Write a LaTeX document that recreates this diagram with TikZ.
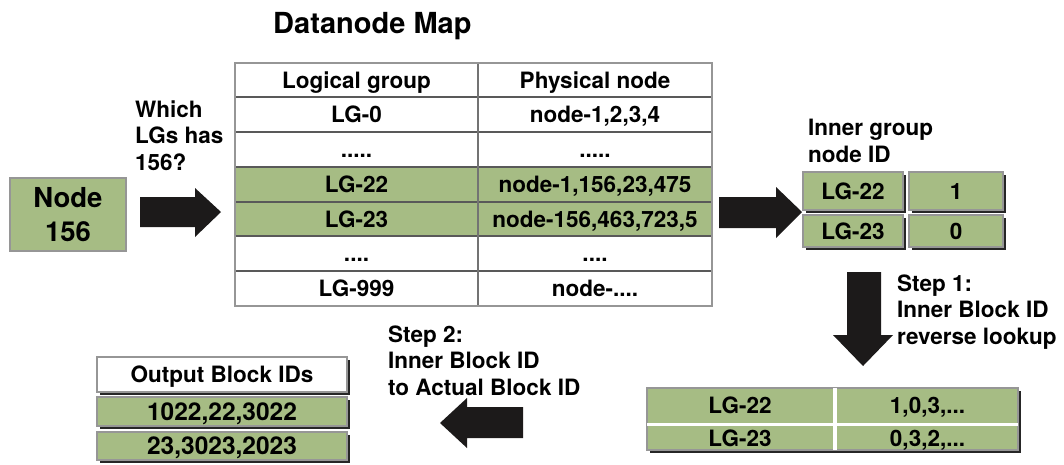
\documentclass[tikz,border=0pt]{standalone}
\usepackage{fontspec}
\setmainfont{TeX Gyre Heros}
\usetikzlibrary{shadows}

\definecolor{lgreen}{RGB}{166,188,132}
\definecolor{edgegray}{RGB}{150,150,150}
\definecolor{arrowfill}{RGB}{28,26,26}

\begin{document}
\begin{tikzpicture}[x=1pt,y=-1pt,
  lbl/.style={font=\bfseries\fontsize{22.5}{26.5}\selectfont, inner sep=0pt, align=left, anchor=base west},
  celltext/.style={font=\bfseries\fontsize{22.5}{26.5}\selectfont, inner sep=0pt,
                   text height=16pt, text depth=0pt},
  shadowed/.style={drop shadow={shadow xshift=2.5pt, shadow yshift=-2.5pt, fill=black!85, opacity=1}},
  gcell/.style={celltext, fill=lgreen, draw=edgegray, line width=1.2pt, shadowed},
  blockarrow/.style={fill=arrowfill, draw=none}
]
\useasboundingbox (0,0) rectangle (1064,464);

% ---- title ----
\node[inner sep=0pt, anchor=base west, font=\bfseries\fontsize{29}{34}\selectfont] (title) at (273,33) {Datanode Map};

% ---- source node ----
\node[draw=edgegray, line width=1.8pt, fill=lgreen, minimum width=116pt, minimum height=73pt,
      inner sep=0pt, align=center, font=\bfseries\fontsize{27.5}{34}\selectfont] (src) at (68,214.5)
      {Node\\156};

% multi-line labels are anchored at the baseline of their last line
\node[lbl] (question) at (135,170) {Which\\LGs has\\156?};

% arrow into the map
\fill[blockarrow] (140,197) -- (195,197) -- (195,188) -- (221,212) -- (195,237) -- (195,227) -- (140,227) -- cycle;

% ---- datanode map table ----
\fill[lgreen] (235,167) rectangle (712,236);
\foreach \yy in {97,132,167,202,236,271}
  \draw[black!65, line width=1.1pt] (235,\yy) -- (712,\yy);
\draw[black!55, line width=1.2pt] (478,63) -- (478,306);
\draw[edgegray, line width=1.5pt] (235,63) rectangle (712,306);

\node[celltext] (h1) at (356.5,80)    {Logical group};
\node[celltext] (h2) at (595,80)      {Physical node};
\node[celltext] (a1) at (356.5,114.5) {LG-0};
\node[celltext] (a2) at (595,114.5)   {node-1,2,3,4};
\node[celltext] (b1) at (356.5,149.5) {.....};
\node[celltext] (b2) at (595,149.5)   {.....};
\node[celltext] (c1) at (356.5,184.5) {LG-22};
\node[celltext] (c2) at (595,184.5)   {node-1,156,23,475};
\node[celltext] (d1) at (356.5,219)   {LG-23};
\node[celltext] (d2) at (595,219)     {node-156,463,723,5};
\node[celltext] (e1) at (356.5,253.5) {....};
\node[celltext] (e2) at (595,253.5)   {....};
\node[celltext] (f1) at (356.5,288.5) {LG-999};
\node[celltext] (f2) at (595,288.5)   {node-....};

% arrow to inner group table
\fill[blockarrow] (719,197) -- (776,197) -- (776,187) -- (802,212) -- (776,238) -- (776,228) -- (719,228) -- cycle;

% ---- inner group node ID ----
\node[lbl] (innerlbl) at (808,162) {Inner group\\node ID};
\node[gcell, minimum width=100pt, minimum height=38pt] (ig1) at (853,191) {LG-22};
\node[gcell, minimum width=94pt,  minimum height=38pt] (ig2) at (956,191) {1};
\node[gcell, minimum width=100pt, minimum height=32pt] (ig3) at (853,231) {LG-23};
\node[gcell, minimum width=94pt,  minimum height=32pt] (ig4) at (956,231) {0};

% step 1 arrow (downwards)
\fill[blockarrow] (847,272) -- (881,272) -- (881,335) -- (893,335) -- (863,366) -- (833,335) -- (847,335) -- cycle;
\node[lbl] (step1) at (897,344) {Step 1:\\Inner Block ID\\reverse lookup};

% ---- inner block id table ----
\node[draw=edgegray, line width=1.2pt, fill=lgreen, minimum width=371pt, minimum height=62pt,
      inner sep=0pt, shadowed] (blk) at (832.5,419) {};
\draw[white, line width=3.5pt] (835,388) -- (835,450);
\draw[white, line width=3.2pt] (647,424.5) -- (1018,424.5);
\node[celltext] (k1) at (740,405.5) {LG-22};
\node[celltext] (k2) at (927.5,405.5) {1,0,3,...};
\node[celltext] (k3) at (740,438) {LG-23};
\node[celltext] (k4) at (927.5,438) {0,3,2,...};

% step 2 arrow (leftwards)
\fill[blockarrow] (523,407) -- (467,407) -- (467,398) -- (440,423) -- (467,448) -- (467,438) -- (523,438) -- cycle;
\node[lbl] (step2) at (388,395) {Step 2:\\Inner Block ID\\to Actual Block ID};

% ---- output block ids ----
\node[celltext, fill=white, draw=edgegray, line width=1.2pt, shadowed,
      minimum width=250pt, minimum height=35pt] (out0) at (222,374.5) {Output Block IDs};
\node[gcell, font=\bfseries\fontsize{24.5}{28}\selectfont, text height=17.5pt,
      minimum width=250pt, minimum height=29pt] (out1) at (222,411.5) {1022,22,3022};
\node[gcell, font=\bfseries\fontsize{24.5}{28}\selectfont, text height=17.5pt,
      minimum width=250pt, minimum height=28pt] (out2) at (222,446) {23,3023,2023};

\end{tikzpicture}
\end{document}
